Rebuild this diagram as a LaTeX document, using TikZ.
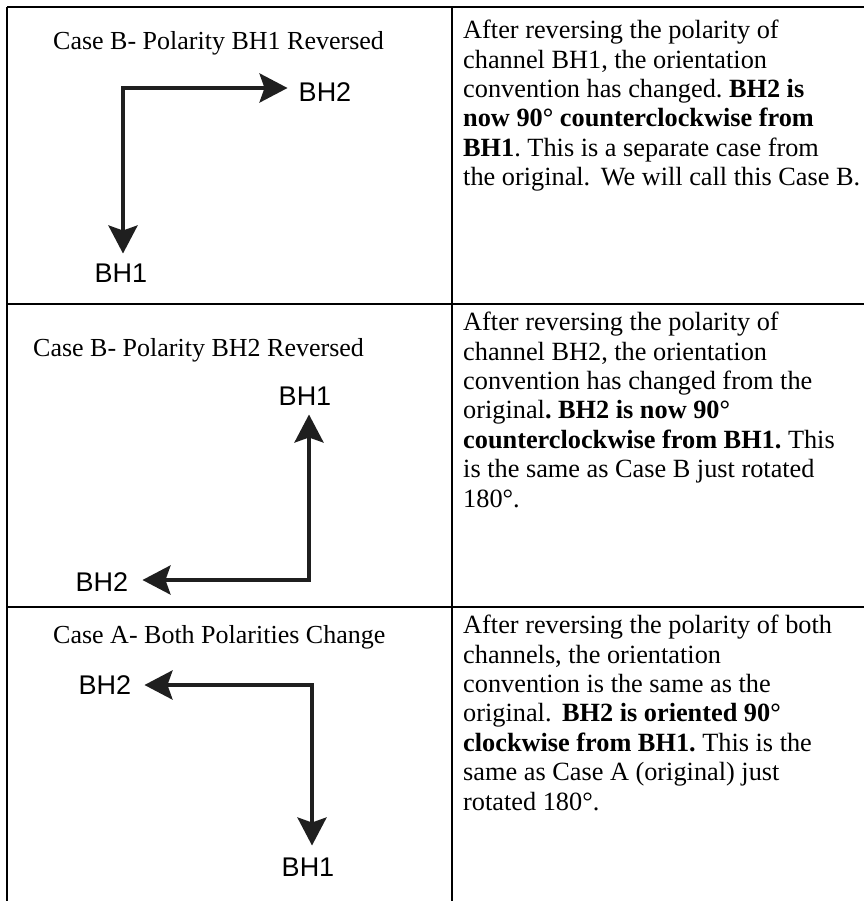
\documentclass[tikz,border=0pt]{standalone}
\usepackage{fontspec}
\setmainfont{Liberation Serif}
\newfontfamily\labelfont{Liberation Sans}
\usetikzlibrary{arrows.meta, positioning}
\frenchspacing

\tikzstyle{grid} = [line width=2.5pt, black]
\tikzstyle{title} = [anchor=base west, inner sep=0pt, font=\fontsize{26}{29.4}\selectfont]
\tikzstyle{note} = [anchor=north west, inner sep=0pt, align=left, font=\fontsize{26.3}{29.4}\selectfont]
\tikzstyle{axislabel} = [inner sep=0pt, font=\labelfont\fontsize{27}{30}\selectfont]
\tikzstyle{axis} = [draw, line width=4pt, line cap=rect, black!88, -{Stealth[length=28pt, width=29pt, inset=5pt]}]

\begin{document}
\begin{tikzpicture}[x=1pt, y=-1pt]
    \useasboundingbox (0,0) rectangle (864,901);

    % Table
    \draw[grid] (7,7) -- (7,901);
    \draw[grid] (452,7) -- (452,901);
    \draw[grid] (7,7) -- (864,7);
    \draw[grid] (7,304) -- (864,304);
    \draw[grid] (7,607) -- (864,607);

    % Row 1
    \node[title] (titleA) at (53,50) {Case B- Polarity BH1 Reversed};
    \coordinate (cornerA) at (123,88);
    \node[axislabel] (bhtwoA) at (325,92) {BH2};
    \node[axislabel] (bhoneA) at (121,273) {BH1};
    \path[axis, shorten >=11pt] (cornerA) -- (cornerA -| bhtwoA.west);
    \path[axis, shorten >=10pt] (cornerA) -- (cornerA |- bhoneA.north);
    \node[note] (noteA) at (463,20) {After reversing the polarity of\\
        channel BH1, the orientation\\
        convention has changed. \textbf{BH2 is}\\
        \textbf{now 90° counterclockwise from}\\
        \textbf{BH1}. This is a separate case from\\
        the original.\hspace{0.4em}We will call this Case B.};

    % Row 2
    \node[title] (titleB) at (33,356) {Case B- Polarity BH2 Reversed};
    \coordinate (cornerB) at (309,580);
    \node[axislabel] (bhoneB) at (305,396) {BH1};
    \node[axislabel] (bhtwoB) at (102,582) {BH2};
    \path[axis, shorten >=9pt] (cornerB) -- (cornerB |- bhoneB.south);
    \path[axis, shorten >=14pt] (cornerB) -- (cornerB -| bhtwoB.east);
    \node[note] (noteB) at (463,312) {After reversing the polarity of\\
        channel BH2, the orientation\\
        convention has changed from the\\
        original\textbf{. BH2 is now 90°}\\
        \textbf{counterclockwise from BH1.} This\\
        is the same as Case B just rotated\\
        180°.};

    % Row 3
    \node[title] (titleC) at (53,643) {Case A- Both Polarities Change};
    \coordinate (cornerC) at (312,685);
    \node[axislabel] (bhtwoC) at (105,685) {BH2};
    \node[axislabel] (bhoneC) at (308,867) {BH1};
    \path[axis, shorten >=13pt] (cornerC) -- (cornerC -| bhtwoC.east);
    \path[axis, shorten >=12pt] (cornerC) -- (cornerC |- bhoneC.north);
    \node[note] (noteC) at (463,615) {After reversing the polarity of both\\
        channels, the orientation\\
        convention is the same as the\\
        original.\hspace{0.4em}\textbf{BH2 is oriented 90°}\\
        \textbf{clockwise from BH1.} This is the\\
        same as Case A (original) just\\
        rotated 180°.};
\end{tikzpicture}
\end{document}
